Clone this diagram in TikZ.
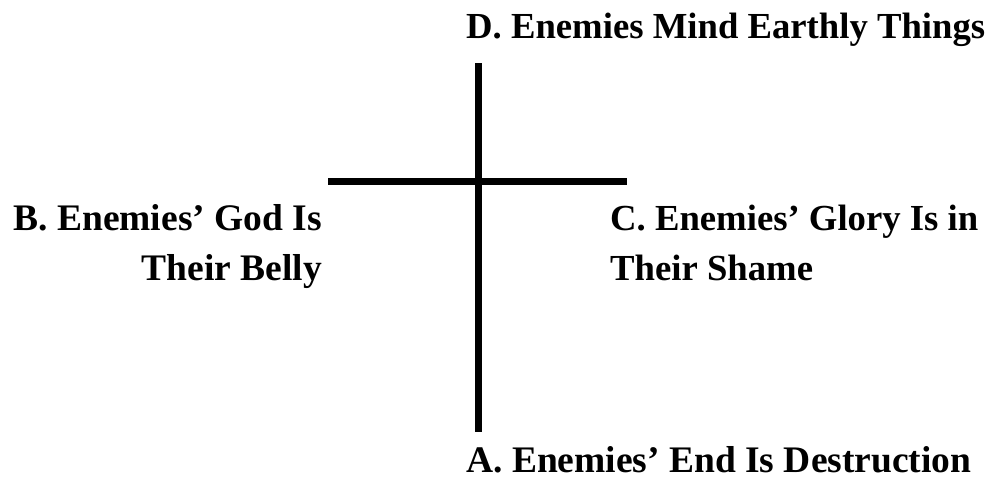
\documentclass[tikz,border=0pt]{standalone}
\usepackage{fontspec}
\setmainfont{Liberation Serif}
\begin{document}
\begin{tikzpicture}[x=1pt,y=-1pt,
  lbl/.style={inner sep=0pt,font=\fontsize{37.5}{50}\selectfont\bfseries},
  lbls/.style={inner sep=0pt,font=\fontsize{36.7}{50}\selectfont\bfseries},
  bar/.style={line width=7pt}]
\useasboundingbox (0,0) rectangle (993,479);
\coordinate (vt) at (478,63);
\coordinate (vb) at (478,432);
\coordinate (hl) at (328,181);
\coordinate (hr) at (627,181);
\draw[bar] (vt) -- (vb);
\draw[bar] (hl) -- (hr);
\node[lbls,anchor=base west] (d) at (466,38) {D. Enemies Mind Earthly Things};
\node[lbl,anchor=base west] (a) at (466,472) {A. Enemies’ End Is Destruction};
\node[lbl,anchor=base east] (b1) at (322,230) {B. Enemies’ God Is};
\node[lbl,anchor=base east] (b2) at (322,280) {Their Belly};
\node[lbls,anchor=base west] (c1) at (610,230) {C. Enemies’ Glory Is in};
\node[lbls,anchor=base west] (c2) at (610,280) {Their Shame};
\end{tikzpicture}
\end{document}
